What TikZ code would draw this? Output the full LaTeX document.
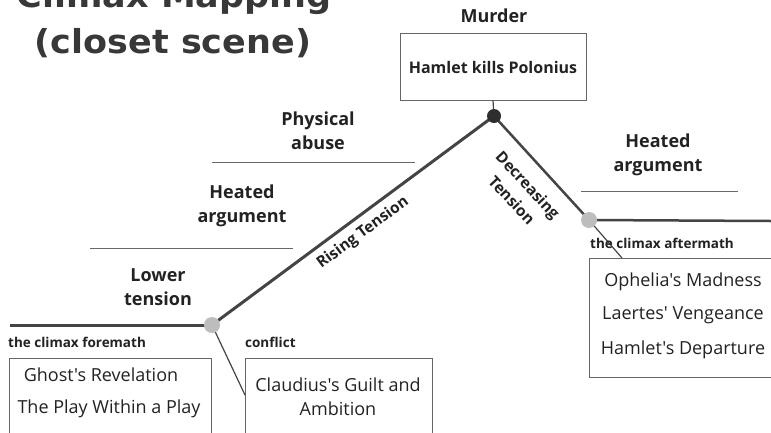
\documentclass[tikz,border=0pt]{standalone}
\usepackage{fontspec}
\setmainfont{Open Sans}[Ligatures=TeXOff]
\newfontfamily\titlefont{DejaVu Sans}
\definecolor{linec}{HTML}{444444}
\definecolor{dotgray}{HTML}{BDBDBD}
\definecolor{dotdark}{HTML}{2E2E2E}
\definecolor{boxc}{HTML}{666666}
\definecolor{txt}{HTML}{222222}
\tikzset{
  ttl/.style={font=\titlefont\bfseries\fontsize{33}{40}\selectfont, text=txt!90!white, anchor=base, xscale=1.06, inner sep=0},
  lbl/.style={font=\bfseries\fontsize{18}{24}\selectfont, text=txt, align=center, inner sep=0},
  small/.style={font=\bfseries\fontsize{13.5}{14}\selectfont, text=txt, inner sep=0},
  boxtxt/.style={font=\fontsize{18}{20}\selectfont, text=txt, inner sep=0},
  slope/.style={font=\bfseries\fontsize{15.5}{22}\selectfont, text=txt, align=center, inner sep=0},
  frame/.style={draw=boxc, line width=1pt, inner sep=0},
  thick line/.style={draw=linec, line width=3pt},
  thin line/.style={draw=linec, line width=1.2pt},
  rule/.style={draw=linec!80, line width=1pt},
  dotg/.style={circle, fill=dotgray, inner sep=0, minimum size=16pt},
  dotd/.style={circle, fill=dotdark, inner sep=0, minimum size=14pt},
}
\begin{document}
\begin{tikzpicture}[x=1pt,y=-1pt]
\useasboundingbox (0,0) rectangle (771,432);
% titles
\node[ttl] (t1) at (174,7) {Climax Mapping};
\node[ttl] (t2) at (173,53) {(closet scene)};
% peak box
\node[lbl] (murder) at (494,16) {Murder};
\node[frame, minimum width=186pt, minimum height=67pt] (pbox) at (493,66.5) {};
\node[font=\bfseries\fontsize{16}{18}\selectfont, text=txt, inner sep=0] (ptxt) at (493,67) {Hamlet kills Polonius};
% key points
\coordinate (peak) at (494,116);
\coordinate (lo) at (212,325);
\coordinate (ro) at (589,220);
\coordinate (lend) at (10,325);
\coordinate (rend) at (771,221);
\coordinate (rbend) at (622,258);
% boxes
\node[frame, minimum width=202pt, minimum height=90pt] (lbox) at (110,403) {};
\node[frame, minimum width=187pt, minimum height=90pt] (cbox) at (338.5,403) {};
\node[frame, minimum width=200pt, minimum height=119pt] (rbox) at (689,317.5) {};
\coordinate (cbend) at (245,395);
% lines
\draw[thin line] (pbox.south) -- (peak);
\draw[thick line] (lend) -- (lo);
\draw[thick line] (lo) -- (peak);
\draw[thick line, line width=2.5pt] (peak) -- (ro);
\draw[thin line] (ro) -- (rbend);
\draw[thick line, line width=2.5pt] (ro) -- (rend);
\draw[thin line] (lo) -- (cbend);
% dots
\node[dotd] (peakdot) at (peak) {};
\node[dotg] (lodot) at (lo) {};
\node[dotg] (rodot) at (ro) {};
% left labels
\node[lbl] (phys) at (318,131) {Physical\\abuse};
\draw[rule] (212,162) coordinate (r1a) -- (415,162) coordinate (r1b);
\node[lbl] (heat1) at (242,205.5) {Heated\\argument};
\draw[rule] (90,248) coordinate (r2a) -- (293,248) coordinate (r2b);
\node[lbl] (lower) at (158,287) {Lower\\tension};
\node[slope, rotate=36.5] (rising) at (363,233) {Rising Tension};
% right labels
\node[lbl] (heat2) at (658,154.5) {Heated\\argument};
\draw[rule] (581,191) coordinate (r3a) -- (738,191) coordinate (r3b);
\node[slope, rotate=-47] (decr) at (520,192.5) {Decreasing\\Tension};
% small labels
\node[small, anchor=west] (fore) at (8,342) {the climax foremath};
\node[small, anchor=west] (confl) at (245,342) {conflict};
\node[small, anchor=west] (after) at (590,243) {the climax aftermath};
% box texts
\node[boxtxt] (g1) at (101,375) {Ghost's Revelation};
\node[boxtxt] (g2) at (109,409) {The Play Within a Play};
\node[boxtxt] (c1) at (338,385) {Claudius's Guilt and};
\node[boxtxt] (c2) at (338,409) {Ambition};
\node[boxtxt] (o1) at (683,282) {Ophelia's Madness};
\node[boxtxt] (o2) at (683,315) {Laertes' Vengeance};
\node[boxtxt] (o3) at (683,350) {Hamlet's Departure};
\end{tikzpicture}
\end{document}
